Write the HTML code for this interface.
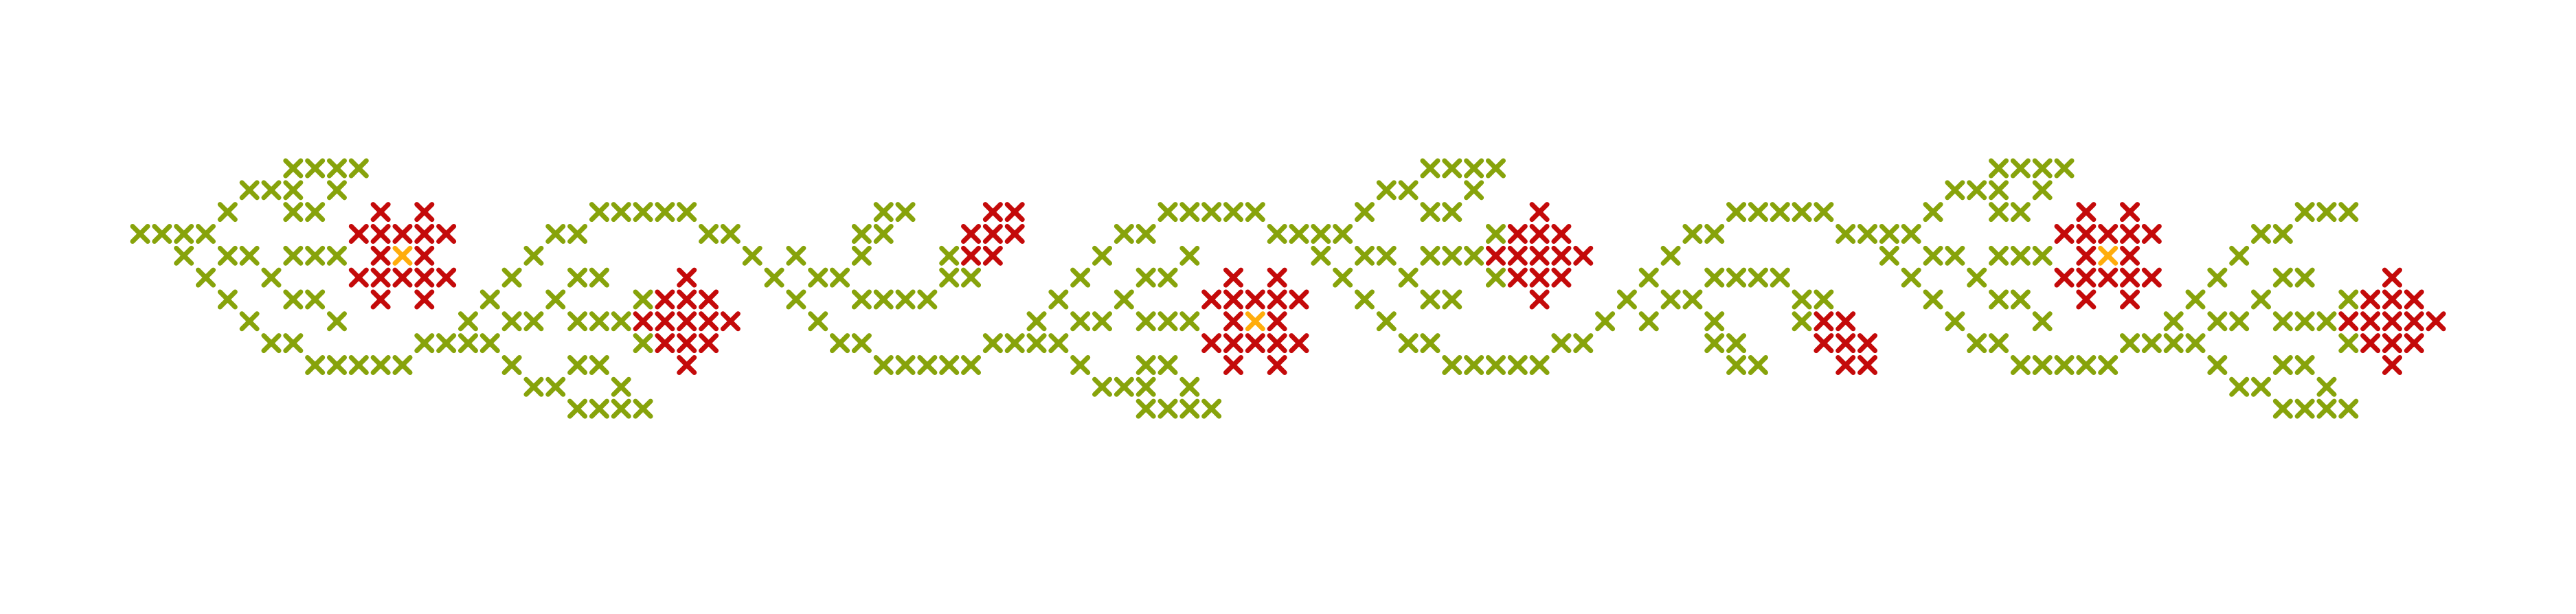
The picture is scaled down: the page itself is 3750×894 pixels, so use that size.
<!DOCTYPE html>
<html>
<head>
<meta charset="utf-8">
<style>
  html,body{margin:0;padding:0;background:#ffffff;}
  body{width:3750px;height:894px;overflow:hidden;font-family:"Liberation Sans",sans-serif;}
  svg{display:block;}
</style>
</head>
<body>
<svg id="chart" width="3750" height="894" viewBox="0 0 3750 894" xmlns="http://www.w3.org/2000/svg">
  <rect x="0" y="0" width="3750" height="894" fill="#ffffff"/>
  <g id="stitches"></g>
</svg>
<script>
// Base motif (columns 0..40), one array per row per thread colour
const greenRows = [
  [7,8,9,10],
  [5,6,7,9],
  [4,7,8,21,22,23,24,25,34,35],
  [0,1,2,3,19,20,26,27,33,34],
  [2,4,5,7,8,9,18,28,30,33,37],
  [3,6,17,20,21,29,31,32,37,38],
  [4,7,8,16,19,23,30,33,34,35,36],
  [5,9,15,17,18,20,21,22,31],
  [6,7,13,14,15,16,23,32,33],
  [8,9,10,11,12,17,20,21,34,35,36,37,38],
  [18,19,22],
  [20,21,22,23]
];
const redRows = [
  [],
  [],
  [11,13,39,40],
  [10,11,12,13,14,38,39,40],
  [11,13,38,39],
  [10,11,12,13,14,25],
  [11,13,24,25,26],
  [23,24,25,26,27],
  [24,25,26],
  [25],
  [],
  []
];
const yellowRows = [[],[],[],[],[12],[],[],[],[],[],[],[]];
// Repeats: column offset and whether vertically flipped
const repeatOffsets = [0, 39, 78];
const repeatFlips = [false, true, false];
const lastColumn = 105;
// Cells omitted at the end of the border [row, col]
const omittedCells = [[2,102],[2,103],[3,104],[3,105]];

const colours = {g:"#87a30b", r:"#c40a0a", y:"#ffad0c"};
const nRows = 12;
const x0 = 204, y0 = 245, pitch = 31.83;
function xPos(c){ return x0 + c * pitch; }
function yPos(r){ return y0 + r * pitch; }

const grid = {};
function addRows(rows, key){
  repeatOffsets.forEach(function(off, i){
    rows.forEach(function(cols, r){
      const rr = repeatFlips[i] ? (nRows - 1 - r) : r;
      cols.forEach(function(c){
        const cc = c + off;
        if (cc > lastColumn) return;
        grid[rr + "_" + cc] = key;
      });
    });
  });
}
addRows(greenRows, "g");
addRows(redRows, "r");
addRows(yellowRows, "y");
omittedCells.forEach(function(p){ delete grid[p[0] + "_" + p[1]]; });

const NS = "http://www.w3.org/2000/svg";
const layer = document.getElementById("stitches");
const arm = 11;
Object.keys(grid).forEach(function(k){
  const parts = k.split("_");
  const r = +parts[0], c = +parts[1];
  const cx = xPos(c), cy = yPos(r);
  const p = document.createElementNS(NS, "path");
  p.setAttribute("d", "M" + (cx-arm) + " " + (cy-arm) + "L" + (cx+arm) + " " + (cy+arm) +
                      "M" + (cx+arm) + " " + (cy-arm) + "L" + (cx-arm) + " " + (cy+arm));
  p.setAttribute("stroke", colours[grid[k]]);
  p.setAttribute("stroke-width", "7");
  p.setAttribute("stroke-linecap", "round");
  p.setAttribute("fill", "none");
  
  
  layer.appendChild(p);
});
</script>
</body>
</html>
